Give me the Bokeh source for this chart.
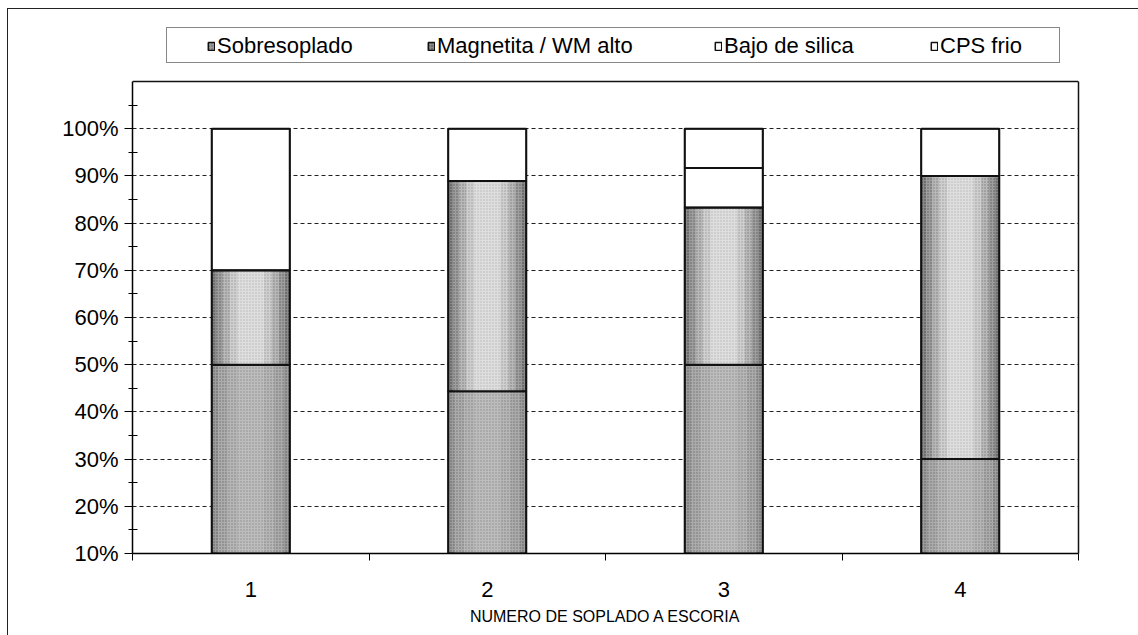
import numpy as np
from bokeh.plotting import figure
from bokeh.models import (ColumnDataSource, FixedTicker, NumeralTickFormatter,
                          Legend, LegendItem, Range1d, LinearAxis)
from bokeh.layouts import column
from bokeh.embed import file_html
from bokeh.resources import INLINE

# ---- data ---------------------------------------------------------------
categories = ["1", "2", "3", "4"]
sobresoplado = [0.50, 0.444, 0.50, 0.30]
magnetita_wm_alto = [0.20, 0.445, 0.333, 0.60]
bajo_de_silica = [0.0, 0.0, 0.084, 0.0]
cps_frio = [0.30, 0.111, 0.083, 0.10]
series_names = ["Sobresoplado", "Magnetita / WM alto", "Bajo de silica", "CPS frio"]
y_tick_values = [0.1, 0.2, 0.3, 0.4, 0.5, 0.6, 0.7, 0.8, 0.9, 1.0]
x_axis_title = "NUMERO DE SOPLADO A ESCORIA"

# ---- layout / styling constants -----------------------------------------
FONT = "Liberation Sans"
BAR_W = 0.33
Y_MIN, Y_MAX = 0.1, 1.1          # value span of the plotting box
BOX_H = 472                      # pixel height of that span
HEAD_H = 61                      # room above the box for the legend strip
xs = np.arange(1, len(categories) + 1)
X_MIN, X_MAX = 0.5, len(categories) + 0.5

series = [sobresoplado, magnetita_wm_alto, bajo_de_silica, cps_frio]
tops = np.cumsum(np.array(series), axis=0)
bottoms = tops - np.array(series)

y_end = Y_MIN + (Y_MAX - Y_MIN) * (BOX_H + HEAD_H) / BOX_H

p = figure(frame_width=946, frame_height=BOX_H + HEAD_H,
           min_border_left=124, min_border_right=60,
           min_border_top=11, min_border_bottom=82,
           x_range=Range1d(X_MIN, X_MAX),
           y_range=Range1d(Y_MIN, y_end),
           output_backend="svg", toolbar_location=None)
p.background_fill_color = "white"
p.border_fill_color = "white"
p.outline_line_color = None

# stippled shading: (relative width, fill, dot colour, dot alpha) from the
# outside of a bar segment towards its middle
layer_styles = [
    [(1.00, "#9c9c9c", "#202020", 0.55), (0.84, "#ababab", "#2a2a2a", 0.45),
     (0.60, "#b6b6b6", "#333333", 0.40), (0.34, "#bdbdbd", "#333333", 0.35)],
    [(1.00, "#8a8a8a", "#101010", 0.60), (0.88, "#9e9e9e", "#202020", 0.50),
     (0.72, "#b8b8b8", "#2a2a2a", 0.40), (0.54, "#cfcfcf", "#333333", 0.32),
     (0.34, "#dedede", "#444444", 0.25)],
    [(1.00, "#ffffff", None, 0.0)],
    [(1.00, "#ffffff", None, 0.0)],
]

legend_renderers = []
for i, layers in enumerate(layer_styles):
    src = ColumnDataSource(dict(x=xs, bottom=bottoms[i], top=tops[i]))
    first = None
    for j, (frac, color, dot, dot_alpha) in enumerate(layers):
        kw = {}
        if dot is not None:
            kw = dict(hatch_pattern="dot", hatch_color=dot, hatch_alpha=dot_alpha,
                      hatch_scale=3, hatch_weight=1)
        r = p.vbar(x="x", bottom="bottom", top="top", width=BAR_W * frac,
                   source=src, fill_color=color,
                   line_color="#111111" if j == 0 else None, line_width=1.5, **kw)
        if first is None:
            first = r
    p.vbar(x="x", bottom="bottom", top="top", width=BAR_W, source=src,
           fill_alpha=0, line_color="#111111", line_width=2)
    legend_renderers.append(first)

# top edge of the plotting box
p.segment(x0=[X_MIN], y0=[Y_MAX], x1=[X_MAX], y1=[Y_MAX],
          line_color="#111111", line_width=1.5)

# ---- axes -----------------------------------------------------------------
yax = p.yaxis[0]
yax.bounds = (Y_MIN, Y_MAX)
yax.ticker = FixedTicker(ticks=y_tick_values,
                         minor_ticks=[v + 0.05 for v in y_tick_values])
yax.formatter = NumeralTickFormatter(format="0%")
yax.major_label_text_font = FONT
yax.major_label_text_font_size = "22px"
yax.major_label_text_color = "black"
yax.major_tick_out = 8
yax.major_tick_in = 0
yax.minor_tick_out = 4
yax.minor_tick_in = 5
yax.major_label_standoff = 6
yax.axis_line_color = "black"
yax.axis_line_width = 1.5
yax.major_tick_line_color = "black"
yax.minor_tick_line_color = "black"

right_edge = LinearAxis(bounds=(Y_MIN, Y_MAX), ticker=FixedTicker(ticks=[]),
                        major_label_text_font_size="0px",
                        major_tick_out=0, major_tick_in=0,
                        minor_tick_out=0, minor_tick_in=0,
                        axis_line_color="#111111", axis_line_width=1.5)
p.add_layout(right_edge, "right")

xax = p.xaxis[0]
xax.ticker = FixedTicker(ticks=list(xs),
                         minor_ticks=[v - 0.5 for v in xs] + [xs[-1] + 0.5])
xax.major_label_overrides = {int(v): c for v, c in zip(xs, categories)}
xax.major_label_text_font = FONT
xax.major_label_text_font_size = "22px"
xax.major_label_text_color = "black"
xax.major_tick_out = 0
xax.major_tick_in = 0
xax.minor_tick_out = 7
xax.minor_tick_in = 0
xax.major_label_standoff = 21
xax.axis_line_color = "black"
xax.axis_line_width = 1.5
xax.minor_tick_line_color = "black"
xax.axis_label = x_axis_title
xax.axis_label_text_font = FONT
xax.axis_label_text_font_style = "normal"
xax.axis_label_text_font_size = "16px"
xax.axis_label_text_color = "black"
xax.axis_label_standoff = 8

p.xgrid.visible = False
p.ygrid.grid_line_color = "#222222"
p.ygrid.grid_line_dash = "4 3"
p.ygrid.grid_line_width = 1

# ---- legend ---------------------------------------------------------------
dummy = p.vbar(x=[1], bottom=[0], top=[0], width=0, fill_alpha=0, line_alpha=0)
box = Legend(items=[LegendItem(label=" ", renderers=[dummy])],
             location=(34, 490), padding=0, spacing=0, margin=0,
             glyph_width=1, glyph_height=34, label_width=891, label_height=34,
             label_standoff=0, border_line_color="#111111", border_line_width=1.2,
             background_fill_color="white", background_fill_alpha=1)
p.add_layout(box, "center")

legend_offsets = [75, 295, 582, 798]
for name, r, off in zip(series_names, legend_renderers, legend_offsets):
    lg = Legend(items=[LegendItem(label=name, renderers=[r])],
                location=(off, 494), padding=0, spacing=0, margin=0,
                glyph_width=8, glyph_height=10, label_standoff=2,
                label_height=10,
                label_text_font=FONT, label_text_font_size="22px",
                label_text_color="black",
                border_line_alpha=0, background_fill_alpha=0)
    p.add_layout(lg, "center")

page = column(p, styles={"margin-left": "7px", "margin-top": "8px",
                         "border-left": "1px solid #222",
                         "border-top": "1px solid #222"})

open("out.html", "w").write(file_html(page, INLINE))
